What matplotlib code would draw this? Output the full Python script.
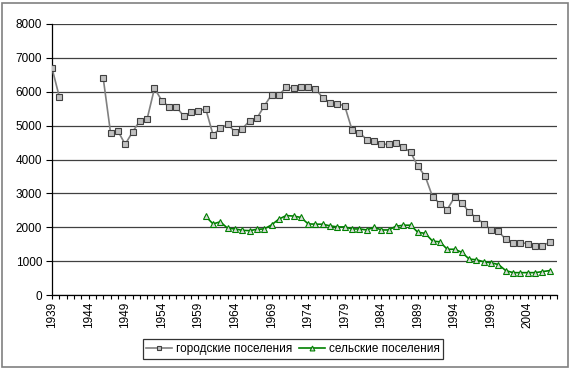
import matplotlib
matplotlib.use("Agg")
import matplotlib.pyplot as plt
import numpy as np
from matplotlib.patches import Rectangle

plt.rcParams['font.family'] = ['Liberation Sans', 'DejaVu Sans']

urban_years = list(range(1939, 2008))
urban_values = [6700, 5850, None, None, None, None, None, 6400, 4790, 4840,
                4450, 4810, 5140, 5200, 6100, 5740, 5550, 5550, 5280, 5390,
                5420, 5500, 4730, 4920, 5040, 4820, 4910, 5140, 5220, 5580,
                5910, 5900, 6130, 6100, 6130, 6130, 6090, 5820, 5680, 5650,
                5580, 4870, 4790, 4590, 4540, 4450, 4450, 4490, 4370, 4210,
                3800, 3500, 2900, 2700, 2520, 2890, 2730, 2440, 2280, 2100,
                1920, 1880, 1640, 1540, 1540, 1520, 1450, 1450, 1560]

rural_years = list(range(1960, 2008))
rural_values = [2320, 2100, 2160, 1970, 1950, 1910, 1900, 1940, 1950, 2070,
                2240, 2345, 2330, 2290, 2100, 2090, 2090, 2040, 2010, 2010,
                1950, 1950, 1920, 2000, 1920, 1920, 2030, 2060, 2060, 1850,
                1820, 1590, 1570, 1350, 1350, 1260, 1060, 1040, 980, 950,
                900, 720, 660, 660, 660, 660, 690, 720]

label_years = list(range(1939, 2005, 5))
y_ticks = [0, 1000, 2000, 3000, 4000, 5000, 6000, 7000, 8000]
series_names = ['городские поселения', 'сельские поселения']

W, H = 570, 368
fig = plt.figure(figsize=(W / 100, H / 100), dpi=100)
fig.patches.append(Rectangle((1.5 / W, 1.5 / H), 1 - 4 / W, 1 - 4 / H,
                             transform=fig.transFigure, fill=False,
                             edgecolor='#808080', linewidth=1.2))

ax = fig.add_axes([52 / W, 1 - 295 / H, (557 - 52) / W, (295 - 24) / H])

uv = np.array([np.nan if v is None else v for v in urban_values], dtype=float)
ax.plot(urban_years, uv, color='#808080', linewidth=1.2, marker='s',
        markersize=5, markerfacecolor='#c0c0c0', markeredgecolor='#404040',
        markeredgewidth=0.8, label=series_names[0], zorder=3)
ax.plot(rural_years, rural_values, color='#008000', linewidth=1.2, marker='^',
        markersize=5, markerfacecolor='#d8d8d8', markeredgecolor='#008000',
        markeredgewidth=0.8, label=series_names[1], zorder=3)

ax.set_xlim(1939, 2008)
ax.set_ylim(0, 8000)
ax.set_yticks(y_ticks)
ax.set_yticklabels([str(v) for v in y_ticks], fontsize=8.5)
ax.set_xticks(label_years)
ax.set_xticklabels([str(y) for y in label_years], rotation=90, fontsize=8.5)
ax.set_xticks(range(1939, 2009), minor=True)
ax.tick_params(axis='x', which='both', length=3, width=0.8, direction='out', pad=2)
ax.tick_params(axis='y', length=4, width=0.8, direction='out', pad=3)

ax.grid(axis='y', color='#404040', linewidth=0.9)
ax.set_axisbelow(True)
for s in ['top', 'right']:
    ax.spines[s].set_visible(False)
for s in ['left', 'bottom']:
    ax.spines[s].set_color('black')
    ax.spines[s].set_linewidth(0.9)

leg = fig.legend(loc='center', bbox_to_anchor=(293 / W, 1 - 349 / H), ncol=2,
                 fontsize=8.5, frameon=True, fancybox=False, edgecolor='black',
                 handlelength=2.2, handletextpad=0.3, columnspacing=0.6,
                 borderpad=0.3, markerscale=0.7)
leg.get_frame().set_linewidth(0.9)

fig.savefig('out.png', dpi=100)
